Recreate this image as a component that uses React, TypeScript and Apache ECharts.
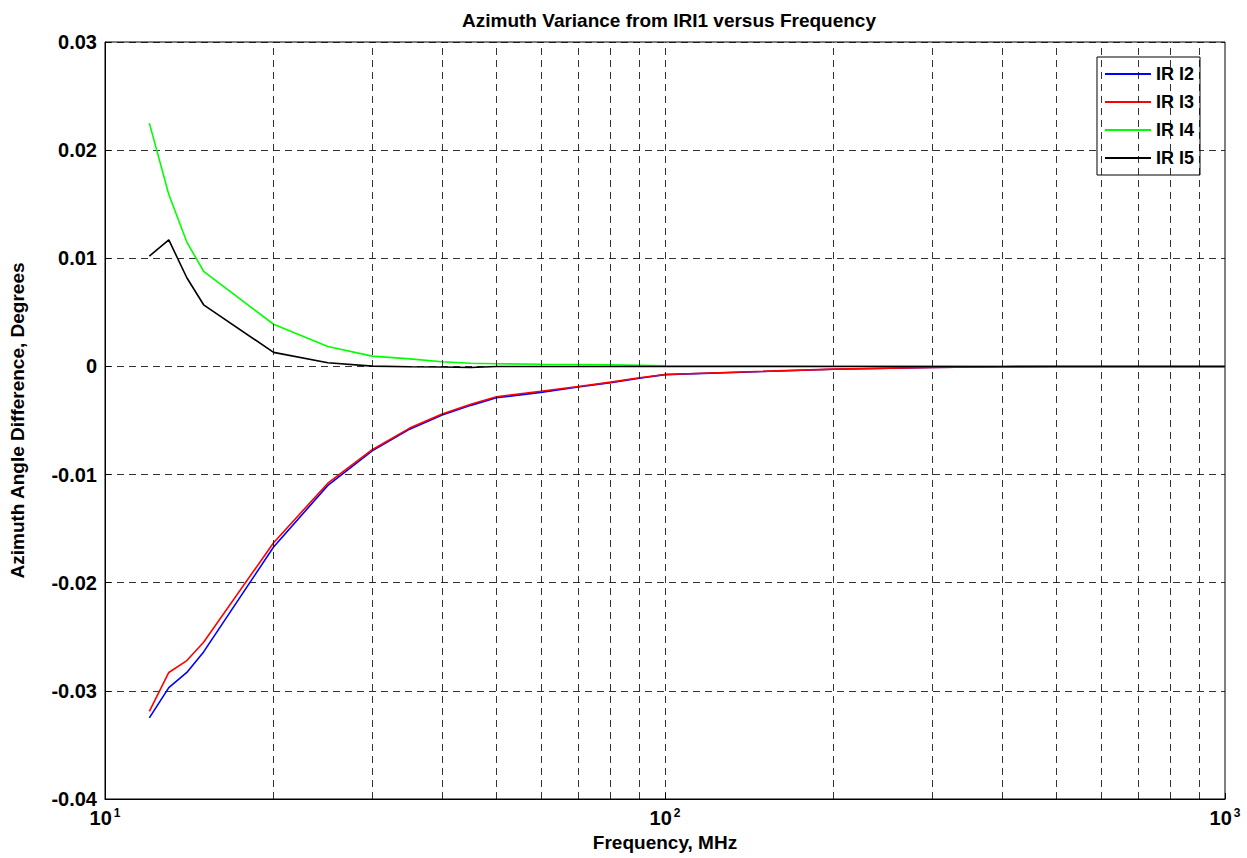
import React, { useEffect, useRef } from "react";
import * as echarts from "echarts";

const FREQ = [12, 13, 14, 15, 20, 25, 30, 35, 40, 45, 50, 60, 70, 80, 90, 100, 200, 300, 400, 500, 600, 700, 800, 900, 1000];
const IRI2 = [-0.0325, -0.0297, -0.0283, -0.0264, -0.0167, -0.011, -0.0078, -0.0058, -0.0045, -0.0036, -0.0029, -0.0024, -0.0019, -0.0015, -0.0011, -0.00076, -0.00026, -0.0001, -0.00003, 0, 0, 0, 0, 0, 0];
const IRI3 = [-0.0319, -0.0283, -0.0272, -0.0255, -0.0163, -0.0108, -0.0077, -0.0057, -0.0044, -0.0035, -0.0028, -0.0023, -0.00185, -0.00145, -0.00105, -0.00074, -0.00025, -0.0001, -0.00003, 0, 0, 0, 0, 0, 0];
const IRI4 = [0.0225, 0.0159, 0.0115, 0.0088, 0.0039, 0.00185, 0.00095, 0.0007, 0.00043, 0.0003, 0.00025, 0.0002, 0.00018, 0.00015, 0.0001, 0.00005, 0.00002, 0.00001, 0, 0, 0, 0, 0, 0, 0];
const IRI5 = [0.0102, 0.0117, 0.0082, 0.0057, 0.0013, 0.00034, 0.00003, -0.00003, -0.00005, -0.0001, 0, 0, 0, 0, 0, 0, 0, 0, 0, 0, 0, 0, 0, 0, 0];
const SERIES_NAMES = ["IR I2", "IR I3", "IR I4", "IR I5"];
const SERIES_COLORS = ["#0000ff", "#ff0000", "#00ff00", "#000000"];
const GRID_FREQ = [20, 30, 40, 50, 60, 70, 80, 90, 100, 200, 300, 400, 500, 600, 700, 800, 900];
const X_LABELS: Record<number, string> = { 10: "1", 100: "2", 1000: "3" };

const FONT = "'Liberation Sans', Arial, Helvetica, sans-serif";

export default function App() {
  const ref = useRef<HTMLDivElement>(null);
  useEffect(() => {
    if (!ref.current) return;
    const chart = echarts.init(ref.current, undefined, { renderer: "svg" });
    const values = [IRI2, IRI3, IRI4, IRI5];
    const dataSeries = values.map((vals, i) => ({
      name: SERIES_NAMES[i],
      type: "line",
      data: FREQ.map((f, j) => [f, vals[j]]),
      showSymbol: false,
      color: SERIES_COLORS[i],
      lineStyle: { color: SERIES_COLORS[i], width: 1.6 },
      z: 3,
      silent: true,
    }));
    const option: any = {
      animation: false,
      backgroundColor: "#ffffff",
      textStyle: { fontFamily: FONT },
      title: {
        text: "Azimuth Variance from IRI1 versus Frequency",
        left: 664,
        top: 6,
        textAlign: "center",
        textStyle: { fontFamily: FONT, fontWeight: "bold", fontSize: 19, color: "#000" },
      },
      grid: {
        left: 104,
        top: 42,
        right: 22,
        bottom: 59,
        show: true,
        borderColor: "#000",
        borderWidth: 1,
        backgroundColor: "#fff",
      },
      legend: {
        data: SERIES_NAMES,
        orient: "vertical",
        right: 47,
        top: 57,
        backgroundColor: "#fff",
        borderColor: "#000",
        borderWidth: 1,
        borderRadius: 0,
        padding: [8, 6, 8, 8],
        itemGap: 10,
        itemWidth: 46,
        itemHeight: 2,
        icon: "rect",
        textStyle: { fontFamily: FONT, fontWeight: "bold", fontSize: 18, color: "#000", lineHeight: 18 },
      },
      xAxis: {
        type: "log",
        logBase: 10,
        min: 10,
        max: 1000,
        name: "Frequency, MHz",
        nameLocation: "middle",
        nameGap: 34,
        nameTextStyle: { fontFamily: FONT, fontWeight: "bold", fontSize: 19, color: "#000" },
        axisLine: { show: true, onZero: false, lineStyle: { color: "#000", width: 1 } },
        axisTick: { show: true, inside: true, length: 6, lineStyle: { color: "#000" } },
        splitLine: { show: false },
        axisLabel: {
          margin: 8,
          formatter: (v: number) => {
            const k = Math.round(v);
            return X_LABELS[k] ? `{b|10}{s|${X_LABELS[k]}}` : "";
          },
          rich: {
            b: { fontFamily: FONT, fontWeight: "bold", fontSize: 20, color: "#000", lineHeight: 22 },
            s: { fontFamily: FONT, fontWeight: "bold", fontSize: 12, color: "#000", lineHeight: 12, verticalAlign: "top", padding: [0, 0, 0, 2] },
          },
        },
      },
      yAxis: {
        type: "value",
        min: -0.04,
        max: 0.03,
        interval: 0.01,
        name: "Azimuth Angle Difference, Degrees",
        nameLocation: "middle",
        nameGap: 78,
        nameTextStyle: { fontFamily: FONT, fontWeight: "bold", fontSize: 19, color: "#000" },
        axisLine: { show: true, lineStyle: { color: "#000", width: 1 } },
        axisTick: { show: true, inside: true, length: 6, lineStyle: { color: "#000" } },
        splitLine: { show: true, lineStyle: { color: "#000", width: 0.8, type: [7, 5] } },
        axisLabel: {
          margin: 8,
          fontFamily: FONT,
          fontWeight: "bold",
          fontSize: 20,
          color: "#000",
          formatter: (v: number) => {
            const r = Math.round(v * 100) / 100;
            return r === 0 ? "0" : r.toFixed(2);
          },
        },
      },
      series: [
        {
          name: "grid",
          type: "line",
          data: [],
          showSymbol: false,
          silent: true,
          z: 1,
          markLine: {
            silent: true,
            symbol: "none",
            animation: false,
            label: { show: false },
            lineStyle: { color: "#000", width: 0.8, type: [7, 5] },
            data: GRID_FREQ.map((f) => ({ xAxis: f })),
          },
        },
        ...dataSeries,
      ],
    };
    chart.setOption(option);
    return () => chart.dispose();
  }, []);
  return (
    <div
      ref={ref}
      style={{ position: "fixed", left: 0, top: 0, width: 1247, height: 858, background: "#fff" }}
    />
  );
}
